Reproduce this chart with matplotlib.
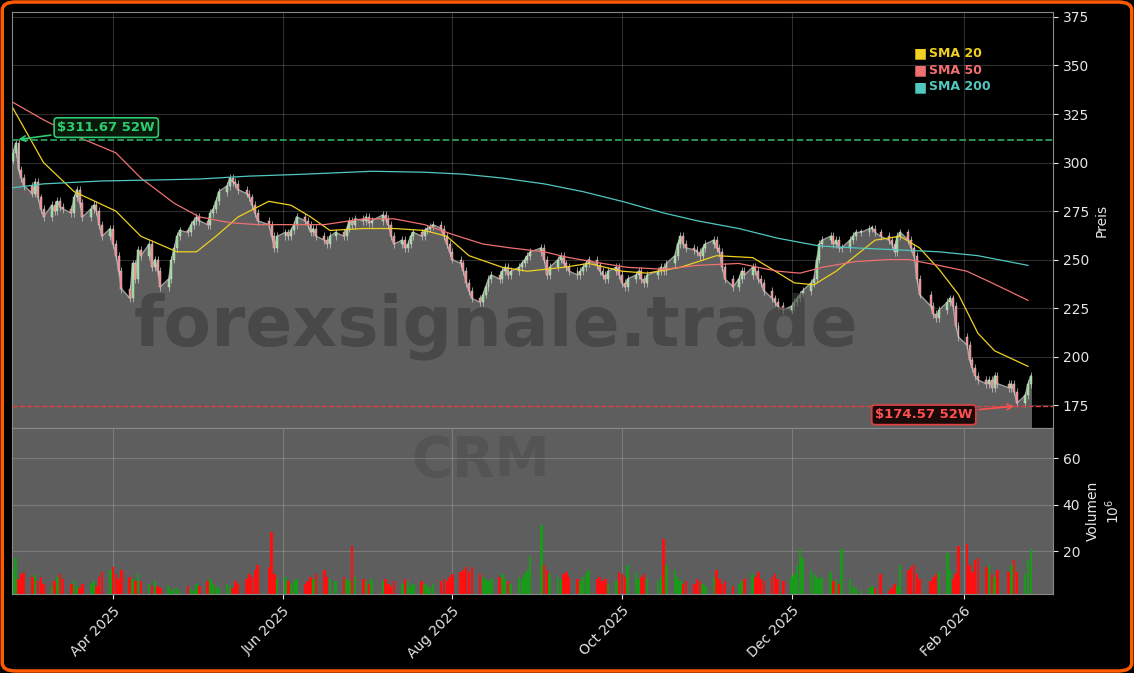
import numpy as np
import pandas as pd
import matplotlib
matplotlib.use("Agg")
import matplotlib.pyplot as plt
import matplotlib.dates as mdates
from matplotlib.patches import FancyBboxPatch
from pandas.tseries.holiday import USFederalHolidayCalendar
from pandas.tseries.offsets import CustomBusinessDay

closes = [305, 310, 296, 292, 288, 284, 290, 282, 276, 272,
          278, 275, 280, 277, 276, 274, 282, 286, 279, 272,
          276, 278, 275,
          268, 262, 266, 258, 252, 244, 235, 230, 248, 240,
          255, 252, 258, 246, 250, 244, 236, 240, 250, 256,
          262, 265, 264, 268, 270, 272, 270, 268, 274, 276,
          280, 285, 288, 292, 290, 289, 286, 284, 282, 278,
          274, 270, 268, 262, 256, 262, 264, 262, 265, 268,
          272, 270, 268, 264, 266, 262, 260, 258, 262, 264,
          262, 266, 270, 268, 271, 270, 272, 269, 270, 273,
          271, 268, 262, 258, 260, 256, 258, 262, 264, 262,
          265, 266, 267, 268, 266, 262, 258, 254, 250, 248,
          244, 238, 234, 230, 228, 232, 236, 240, 242, 240,
          244, 246, 242, 244, 246, 248, 250, 252, 254, 256,
          250, 242, 246, 250, 252, 248, 246, 244, 242, 244,
          246, 248, 250, 247, 244, 242, 240, 244, 246, 242,
          238, 236, 240, 242, 244, 240, 238, 242, 244, 246,
          244, 248, 252, 258, 262, 258, 256, 255, 254,
          252, 256, 258, 260, 256, 254, 246, 240, 236, 240,
          244, 242, 246, 244, 240, 238, 234, 230, 228, 226,
          224, 226, 228, 230, 232, 234, 238, 240, 250, 258,
          260, 262, 258, 260, 256, 256, 260, 262, 264,
          264, 266, 266, 264, 262, 260, 258, 254, 262,
          264, 260, 256, 252, 240, 232, 226, 222, 220, 224,
          228, 230, 226, 216, 210, 206, 198, 194, 190, 188,
          186, 188, 184, 190, 186, 184, 186, 182, 176, 180,
          186, 190]

volumes = [12, 17, 8, 10, 11, 9, 10, 7, 9, 6,
           5, 7, 9, 10, 8, 6, 7, 5, 4, 6,
           6, 7, 5,
           9, 11, 12, 13, 10, 8, 12, 9, 8, 7,
           10, 7, 6, 5, 7, 5, 4, 5, 3, 4,
           4, 3, 5, 4, 3, 6, 5, 7, 8, 6,
           5, 4, 6, 5, 4, 7, 6, 8, 10, 9,
           12, 14, 13, 28, 10, 8, 9, 7, 6, 7,
           8, 6, 7, 9, 8, 10, 12, 9, 8, 7,
           9, 8, 7, 22, 9, 8, 7, 6, 8, 7,
           8, 6, 5, 7, 6, 8, 7, 5, 6, 7,
           6, 5, 4, 6, 7, 8, 7, 9, 10, 11,
           12, 13, 11, 13, 10, 9, 8, 7, 8, 9,
           10, 8, 7, 6, 9, 8, 10, 12, 18, 31,
           14, 12, 10, 9, 8, 10, 11, 9, 8, 7,
           9, 10, 12, 8, 9, 7, 8, 6, 7, 11,
           10, 9, 14, 11, 8, 9, 10, 8, 7, 9,
           25, 14, 12, 9, 7, 6, 7, 6, 8,
           7, 6, 5, 9, 12, 8, 6, 7, 5, 6,
           7, 8, 10, 9, 11, 8, 7, 9, 10, 8,
           7, 9, 10, 14, 21, 17, 12, 10, 9, 8,
           9, 11, 7, 8, 6, 21, 8, 5, 4,
           3, 4, 5, 4, 10, 3, 4, 6, 5,
           14, 12, 13, 14, 10, 8, 7, 9, 10, 11,
           19, 12, 8, 10, 22, 23, 14, 11, 16, 17,
           13, 14, 10, 9, 12, 11, 14, 16, 11, 10,
           16, 21]

sma20_idx = [0, 9, 16, 27, 34, 43, 48, 53, 59, 65, 71, 76, 81, 88, 96, 103, 109, 115, 123, 130, 138, 145, 153, 160, 167, 176, 184, 189, 194, 199, 205, 210, 214, 220, 225, 229, 234, 239, 243, 250]
sma20_val = [328, 300, 285, 275, 262, 254, 254, 262, 272, 280, 278, 272, 265, 266, 266, 265, 262, 252, 246, 244, 246, 248, 244, 243, 246, 252, 251, 245, 238, 237, 244, 252, 260, 262, 256, 245, 232, 212, 203, 195]
sma50_idx = [0, 9, 16, 27, 34, 42, 49, 56, 64, 71, 79, 88, 96, 103, 111, 118, 126, 133, 140, 148, 155, 163, 171, 181, 191, 196, 202, 210, 216, 221, 229, 235, 242, 250]
sma50_val = [331, 322, 314, 305, 292, 279, 272, 269, 268, 268, 268, 271, 271, 268, 263, 258, 256, 254, 251, 248, 246, 245, 247, 248, 244, 243, 246, 249, 250, 250, 247, 244, 238, 229]
sma200_idx = [0, 9, 24, 37, 49, 61, 74, 91, 103, 113, 123, 133, 143, 153, 163, 171, 181, 191, 201, 210, 219, 229, 239, 250]
sma200_val = [287, 289, 290.5, 291, 291.5, 293, 294, 295.5, 295, 294, 292, 289, 285, 280, 274, 270, 266, 261, 257, 256, 255, 254, 252, 247]

high_52w = 311.67
low_52w = 174.57

cbd = CustomBusinessDay(calendar=USFederalHolidayCalendar())
dates = pd.date_range("2025-02-24", periods=len(closes), freq=cbd)
xd = mdates.date2num(dates)
opens = [closes[0] - 4] + closes[:-1]

BG = "#000000"
FILL = "#5e5e5e"
fig = plt.figure(figsize=(11.34, 6.73), dpi=100, facecolor=BG)
border = FancyBboxPatch((0.002, 0.003), 0.996, 0.994, boxstyle="round,pad=0,rounding_size=0.012",
                        transform=fig.transFigure, fill=False, edgecolor="#ff5a00", linewidth=2.5)
fig.patches.append(border)

ax = fig.add_axes([0.0106, 0.364, 0.918, 0.618], facecolor=BG)
axv = fig.add_axes([0.0106, 0.1174, 0.918, 0.2467], facecolor=FILL, sharex=ax)

ymin, ymax = 163.2, 377.5
ax.fill_between(xd, closes, ymin, color=FILL, zorder=1)
ax.plot(xd, closes, color="#9a9a9a", lw=1, zorder=2)
for x, o, c in zip(xd, opens, closes):
    col = "#8fdc8f" if c >= o else "#f08080"
    ax.vlines(x, min(o, c) - 2, max(o, c) + 2, color="#cccccc", lw=0.5, zorder=3)
    ax.bar(x, max(abs(c - o), 0.6), bottom=min(o, c), width=0.7, color=col,
           edgecolor="#dddddd", linewidth=0.3, zorder=4)

ax.plot(mdates.date2num(dates[sma20_idx]), sma20_val, color="#f0d020", lw=0.9, zorder=5)
ax.plot(mdates.date2num(dates[sma50_idx]), sma50_val, color="#f07070", lw=0.9, zorder=5)
ax.plot(mdates.date2num(dates[sma200_idx]), sma200_val, color="#50c8c0", lw=0.9, zorder=5)

ax.axhline(high_52w, color="#2ca05a", ls="--", lw=1.3, zorder=6)
ax.axhline(low_52w, color="#e04040", ls="--", lw=1.0, zorder=6)
ax.annotate(f"${high_52w:.2f} 52W", xy=(xd[1], high_52w), xytext=(xd[12], 318),
            color="#2ecc71", fontsize=9.5, fontweight="bold", va="center",
            bbox=dict(boxstyle="round,pad=0.25", fc="#0a1a0a", ec="#2ecc71", lw=1.2),
            arrowprops=dict(arrowstyle="->", color="#2ecc71", lw=1.2), zorder=8)
ax.annotate(f"${low_52w:.2f} 52W", xy=(xd[248], low_52w), xytext=(xd[214], 170),
            color="#ff5050", fontsize=9.5, fontweight="bold", va="center",
            bbox=dict(boxstyle="round,pad=0.25", fc="#1a0a0a", ec="#e04040", lw=1.2),
            arrowprops=dict(arrowstyle="->", color="#ff5050", lw=1.2), zorder=8)

ax.text(0.465, 0.245, "forexsignale.trade", transform=ax.transAxes, ha="center", va="center",
        fontsize=50, fontweight="bold", color="#3a3a3a", alpha=0.6, zorder=7)
axv.text(0.45, 0.8, "CRM", transform=axv.transAxes, ha="center", va="center",
         fontsize=40, fontweight="bold", color="#545454", zorder=0)

for i, (lab, col) in enumerate([("SMA 20", "#f0d020"), ("SMA 50", "#f07070"), ("SMA 200", "#50c8c0")]):
    yy = 0.9 - i * 0.04
    ax.text(0.866, yy, "■", transform=ax.transAxes, color=col, fontsize=10, va="center")
    ax.text(0.881, yy, lab, transform=ax.transAxes, color=col, fontsize=9, fontweight="bold", va="center")

for x, o, c, v in zip(xd, opens, closes, volumes):
    axv.bar(x, v, width=0.9, color="#1a9a1a" if c >= o else "#ff1010", zorder=2)

xlim = (mdates.date2num(pd.Timestamp("2025-02-23 16:00")), mdates.date2num(pd.Timestamp("2026-03-05")))
ax.set_xlim(*xlim)
ax.set_ylim(ymin, ymax)
axv.set_ylim(1.5, 73)
ax.set_yticks(range(175, 376, 25))
axv.set_yticks([20, 40, 60])

for a in (ax, axv):
    a.yaxis.tick_right()
    a.yaxis.set_label_position("right")
    a.grid(True, color="#ffffff", alpha=0.18, lw=0.8)
    a.tick_params(colors="#e6e6e6", labelsize=10)
    for s in a.spines.values():
        s.set_color("#888888")
    a.set_axisbelow(True)
ax.tick_params(axis="x", labelbottom=False, length=0)
axv.xaxis.set_major_locator(mdates.MonthLocator(bymonth=[2, 4, 6, 8, 10, 12]))
axv.xaxis.set_major_formatter(mdates.DateFormatter("%b %Y"))
plt.setp(axv.get_xticklabels(), rotation=45, ha="right", rotation_mode="anchor")
ax.set_ylabel("Preis", color="#e6e6e6", fontsize=10)
axv.set_ylabel("Volumen\n$10^6$", color="#e6e6e6", fontsize=10)

fig.savefig("out.png", dpi=100, facecolor=BG)
